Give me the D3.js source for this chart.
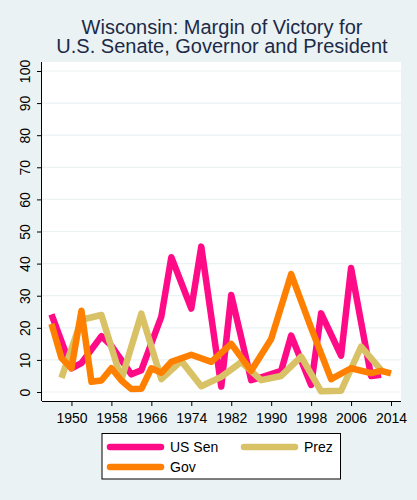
<!DOCTYPE html>
<html>
<head>
<meta charset="utf-8">
<script src="https://cdn.jsdelivr.net/npm/d3@7"></script>
<style>
  body { margin: 0; background: #eaf2f3; }
  svg { display: block; font-family: "Liberation Sans", Arial, sans-serif; }
</style>
</head>
<body>
<svg width="417" height="500"></svg>
<script>
// Wisconsin margins of victory (percentage points)
var senYears = [1946, 1950, 1952, 1956, 1958, 1962, 1964, 1968, 1970, 1974, 1976, 1980, 1982, 1986, 1988, 1992, 1994, 1998, 2000, 2004, 2006, 2010, 2012];
var senMargin = [24.2, 7.4, 9, 17.4, 14.4, 5.5, 6.8, 23.5, 42, 26, 45.3, 1.7, 30.2, 3.7, 4.6, 6.6, 17.6, 2.2, 24.5, 11.3, 38.6, 5, 5.4];

var prezYears = [1948, 1952, 1956, 1960, 1964, 1968, 1972, 1976, 1980, 1984, 1988, 1992, 1996, 2000, 2004, 2008, 2012];
var prezMargin = [4.4, 22.5, 24, 3.9, 24.4, 4, 9.7, 1.8, 4.7, 9.3, 3.7, 5, 11, 0.2, 0.4, 14.1, 6.9];

var govYears = [1946, 1948, 1950, 1952, 1954, 1956, 1958, 1960, 1962, 1964, 1966, 1968, 1970, 1974, 1978, 1982, 1986, 1990, 1994, 1998, 2002, 2006, 2010, 2012, 2014];
var govMargin = [21.2, 10.6, 7.4, 25.3, 3.2, 3.6, 7.4, 3.6, 0.9, 1, 7.4, 6, 9.4, 11.6, 9.4, 15, 6.6, 16.5, 36.7, 20, 4, 7.4, 5.9, 6.6, 5.8];

var xTicks = [1950, 1958, 1966, 1974, 1982, 1990, 1998, 2006, 2014];
var yTicks = [0, 10, 20, 30, 40, 50, 60, 70, 80, 90, 100];

var series = [
    {"name": "US Sen", "years": senYears, "values": senMargin, "color": "#ff0a87"},
    {"name": "Prez", "years": prezYears, "values": prezMargin, "color": "#d9c166"},
    {"name": "Gov", "years": govYears, "values": govMargin, "color": "#ff8000"}
];

var svg = d3.select('svg');

var plotL = 42, plotR = 401, plotT = 62, plotB = 401;

var x = d3.scaleLinear().domain([1944.1, 2016]).range([plotL, plotR]);
var y = d3.scaleLinear().domain([-2.8, 102.8]).range([plotB, plotT]);

// plot region
svg.append('rect')
    .attr('x', plotL).attr('y', plotT)
    .attr('width', plotR - plotL).attr('height', plotB - plotT)
    .attr('fill', 'white');

// gridlines
svg.selectAll('line.grid')
    .data(yTicks)
    .enter()
    .append('line')
    .attr('class', 'grid')
    .attr('x1', plotL).attr('x2', plotR)
    .attr('y1', function(d) { return y(d); })
    .attr('y2', function(d) { return y(d); })
    .attr('stroke', '#eaf2f3')
    .attr('stroke-width', 1.2);

// title
svg.append('text')
    .attr('x', 222).attr('y', 34)
    .attr('text-anchor', 'middle')
    .attr('fill', '#1c2a48')
    .attr('font-size', 20)
    .text('Wisconsin: Margin of Victory for');
svg.append('text')
    .attr('x', 222).attr('y', 53)
    .attr('text-anchor', 'middle')
    .attr('fill', '#1c2a48')
    .attr('font-size', 20)
    .text('U.S. Senate, Governor and President');

// lines
var line = d3.line()
    .x(function(d) { return x(d[0]); })
    .y(function(d) { return y(d[1]); });

series.forEach(function(s) {
    var pts = s.years.map(function(yr, i) { return [yr, s.values[i]]; });
    svg.append('path')
        .datum(pts)
        .attr('d', line)
        .attr('fill', 'none')
        .attr('stroke', s.color)
        .attr('stroke-width', 6.5)
        .attr('stroke-linejoin', 'round');
});

// axes
var xAxis = svg.append('g')
    .attr('transform', 'translate(0,' + plotB + ')')
    .call(d3.axisBottom(x).tickValues(xTicks).tickFormat(d3.format('d')).tickSize(5).tickSizeOuter(0));
xAxis.select('.domain').attr('stroke', 'black').attr('d', 'M' + plotL + ',0.5H' + plotR);
xAxis.selectAll('text').attr('font-size', 14).attr('fill', 'black').attr('dy', '1.0em').attr('font-family', '"Liberation Sans", Arial, sans-serif');

var yAxis = svg.append('g')
    .attr('transform', 'translate(' + plotL + ',0)')
    .call(d3.axisLeft(y).tickValues(yTicks).tickSize(5).tickSizeOuter(0));
yAxis.select('.domain').attr('stroke', 'black').attr('d', 'M-0.5,' + plotT + 'V' + plotB);
yAxis.selectAll('.tick text')
    .attr('font-size', 14)
    .attr('fill', 'black')
    .attr('font-family', '"Liberation Sans", Arial, sans-serif')
    .attr('text-anchor', 'middle')
    .attr('x', 0).attr('y', 0).attr('dy', 0)
    .attr('transform', 'translate(-12.5,0) rotate(-90)');

// legend
var legend = svg.append('g');
legend.append('rect')
    .attr('x', 102).attr('y', 433.5)
    .attr('width', 238.5).attr('height', 45.5)
    .attr('fill', 'white')
    .attr('stroke', 'black')
    .attr('stroke-width', 1);

var keyPos = [[107, 447], [241, 447], [107, 467]];
series.forEach(function(s, i) {
    var p = keyPos[i];
    legend.append('line')
        .attr('x1', p[0] + 3).attr('x2', p[0] + 54)
        .attr('y1', p[1]).attr('y2', p[1])
        .attr('stroke', s.color)
        .attr('stroke-width', 6.5)
        .attr('stroke-linecap', 'round');
    legend.append('text')
        .attr('x', p[0] + 63).attr('y', p[1] + 5)
        .attr('font-size', 14)
        .attr('fill', 'black')
        .text(s.name);
});
</script>
</body>
</html>
